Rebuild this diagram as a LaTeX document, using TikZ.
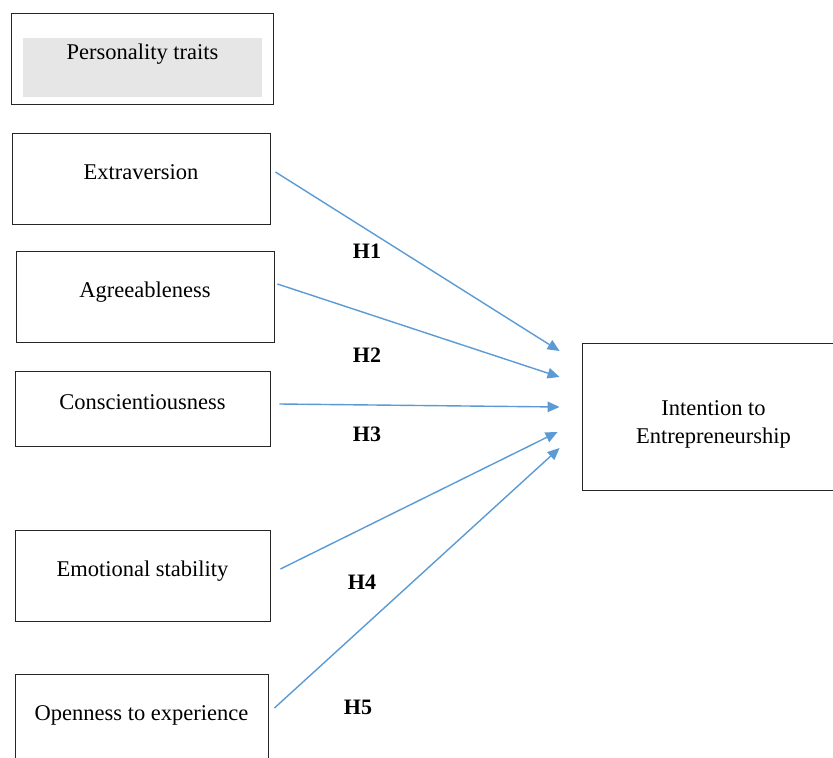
\documentclass[tikz,border=0pt]{standalone}
\usepackage{fontspec}
\setmainfont{Liberation Serif}
\usetikzlibrary{calc,arrows.meta}
\definecolor{arrowblue}{HTML}{5B9BD5}
\definecolor{traitgray}{HTML}{E6E6E6}
\tikzset{
  box/.style={draw=black!85, line width=0.9pt, inner sep=0pt, align=center,
    font=\fontsize{22.5}{28}\selectfont},
  hyp/.style={font=\fontsize{22}{26}\selectfont\bfseries, inner sep=0pt},
  link/.style={draw=arrowblue, line width=1.4pt, -{Triangle[length=12pt,width=10.5pt]}}
}
\begin{document}
\begin{tikzpicture}[x=1pt,y=-1pt]
\clip (0,0) rectangle (833,758);
\fill[white] (0,0) rectangle (833,758);
% Personality traits header
\node[fill=traitgray, inner sep=0pt, minimum width=239pt, text height=21pt, text depth=38pt,
      font=\fontsize{22.5}{28}\selectfont] (pt) at (142.5,67.5) {Personality traits};
\draw[draw=black!85, line width=0.9pt] ($(pt.north west)+(-11,-24)$) rectangle ($(pt.south east)+(11,7)$);
% trait boxes
\node[box, minimum width=258pt, text height=46pt, text depth=45pt] (ext) at (141,178.5) {Extraversion};
\node[box, minimum width=258pt, text height=46pt, text depth=45pt] (agr) at (145,296.5) {Agreeableness};
\node[box, minimum width=255pt, text height=38pt, text depth=37pt] (con) at (142.5,408.5) {Conscientiousness};
\node[box, minimum width=255pt, text height=46pt, text depth=45pt] (emo) at (142.5,575.5) {Emotional stability};
\node[box, minimum width=253pt, text height=46pt, text depth=45pt] (opn) at (141.5,719.5) {Openness to experience};
% outcome
\node[box, minimum width=263pt, text height=100pt, text depth=47pt] (int) at (713.5,416.5) {Intention to\\Entrepreneurship};
% arrows
\draw[link] ($(ext.east)+(5,-6.5)$) -- ($(int.west)+(-22,-65.5)$);
\draw[link] ($(agr.east)+(3,-12.5)$) -- ($(int.west)+(-22,-39.5)$);
\draw[link] ($(con.east)+(9,-4.5)$) -- ($(int.west)+(-22,-9.5)$);
\draw[link] ($(emo.east)+(10,-6.5)$) -- ($(int.west)+(-24,15.5)$);
\draw[link] ($(opn.east)+(6,-11.5)$) -- ($(int.west)+(-22,31.5)$);
% hypothesis labels
\node[hyp] (h1) at (367,251) {H1};
\node[hyp] (h2) at (367,355) {H2};
\node[hyp] (h3) at (367,434) {H3};
\node[hyp] (h4) at (362,582) {H4};
\node[hyp] (h5) at (358,707) {H5};
\end{tikzpicture}
\end{document}
